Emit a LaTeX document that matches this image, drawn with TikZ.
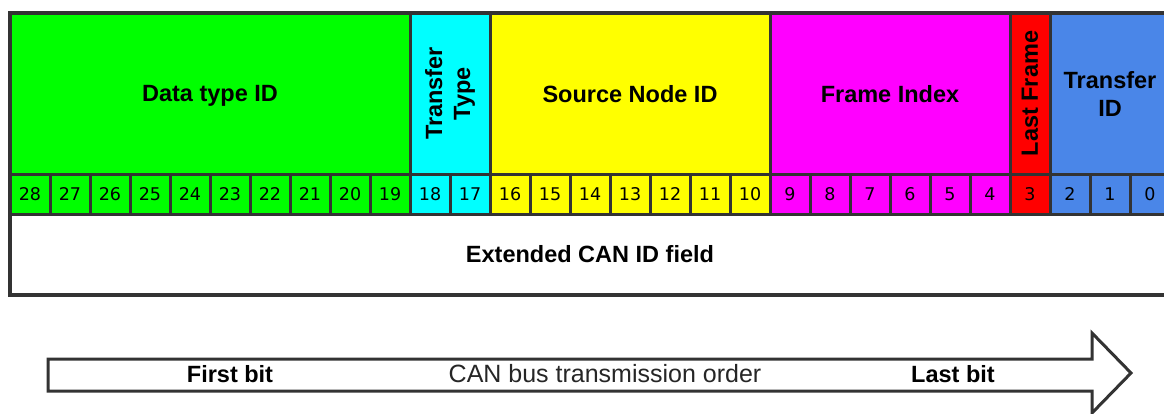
\documentclass[tikz,border=0pt]{standalone}
\usepackage{fontspec}
\setmainfont{Liberation Sans}
\newfontfamily\digitfont{DejaVu Sans}
\definecolor{edgegray}{HTML}{333333}
\definecolor{fgreen}{HTML}{00FF00}
\definecolor{fcyan}{HTML}{00FFFF}
\definecolor{fyellow}{HTML}{FFFF00}
\definecolor{fmagenta}{HTML}{FF00FF}
\definecolor{fred}{HTML}{FF0000}
\definecolor{fblue}{HTML}{4A86E8}
\begin{document}
\begin{tikzpicture}[x=1pt,y=-1pt,
  field/.style={draw=edgegray, line width=3pt, inner sep=0pt, outer sep=0pt,
    anchor=center, minimum height=161pt, align=center,
    font=\bfseries\fontsize{23.5}{28}\selectfont},
  onefield/.style={field, text depth=0pt},
  vfield/.style={field, rotate=90, minimum height=0pt},
  bitcell/.style={draw=edgegray, line width=3pt, inner sep=0pt, outer sep=0pt,
    anchor=center, minimum width=40pt, minimum height=40pt,
    font=\digitfont\fontsize{17.5}{18}\selectfont},
  boldlabel/.style={inner sep=0pt, font=\bfseries\fontsize{23.5}{26}\selectfont},
  plainlabel/.style={inner sep=0pt, text=black!85, font=\fontsize{25}{28}\selectfont}]
\useasboundingbox (0,0) rectangle (1164,413);
\clip (0,0) rectangle (1164,413);
% field row
\node[onefield, fill=fgreen, minimum width=400pt] (dt) at (210,93.5) {Data type ID};
\node[vfield, fill=fcyan, minimum width=161pt, minimum height=80pt] (tt) at (450,93.5) {Transfer\\Type};
\node[onefield, fill=fyellow, minimum width=280pt] (sn) at (630,93.5) {Source Node ID};
\node[onefield, fill=fmagenta, minimum width=240pt] (fi) at (890,93.5) {Frame Index};
\node[vfield, fill=fred, minimum width=161pt, minimum height=40pt] (lf) at (1030,93.5) {Last Frame};
\node[field, fill=fblue, minimum width=120pt] (ti) at (1110,93.5) {Transfer\\ID};
% bit row
\foreach \b in {28,...,19} {\node[bitcell, fill=fgreen] (b\b) at ({30+40*(28-\b)},194) {\b};}
\foreach \b in {18,17} {\node[bitcell, fill=fcyan] (b\b) at ({30+40*(28-\b)},194) {\b};}
\foreach \b in {16,...,10} {\node[bitcell, fill=fyellow] (b\b) at ({30+40*(28-\b)},194) {\b};}
\foreach \b in {9,...,4} {\node[bitcell, fill=fmagenta] (b\b) at ({30+40*(28-\b)},194) {\b};}
\node[bitcell, fill=fred] (b3) at (1030,194) {3};
\foreach \b in {2,1,0} {\node[bitcell, fill=fblue] (b\b) at ({30+40*(28-\b)},194) {\b};}
% extended field
\node[field, fill=white, minimum width=1160pt, minimum height=81pt] (ext) at (590,254.5) {Extended CAN ID field};
\draw[edgegray, line width=3.5pt] (dt.north west) rectangle (ext.south east);
% transmission arrow
\coordinate (tail top) at (48,359);
\coordinate (tail bottom) at (48,391);
\coordinate (tip) at (1131,373);
\draw[edgegray, fill=white, line width=3pt]
  (tail top) -- (1092,359) -- (1092,333) -- (tip) -- (1092,413) -- (1092,391) -- (tail bottom) -- cycle;
\node[boldlabel] (first) at (230,374) {First bit};
\node[plainlabel] (order) at (605,374) {CAN bus transmission order};
\node[boldlabel] (last) at (953,374) {Last bit};
\end{tikzpicture}
\end{document}
